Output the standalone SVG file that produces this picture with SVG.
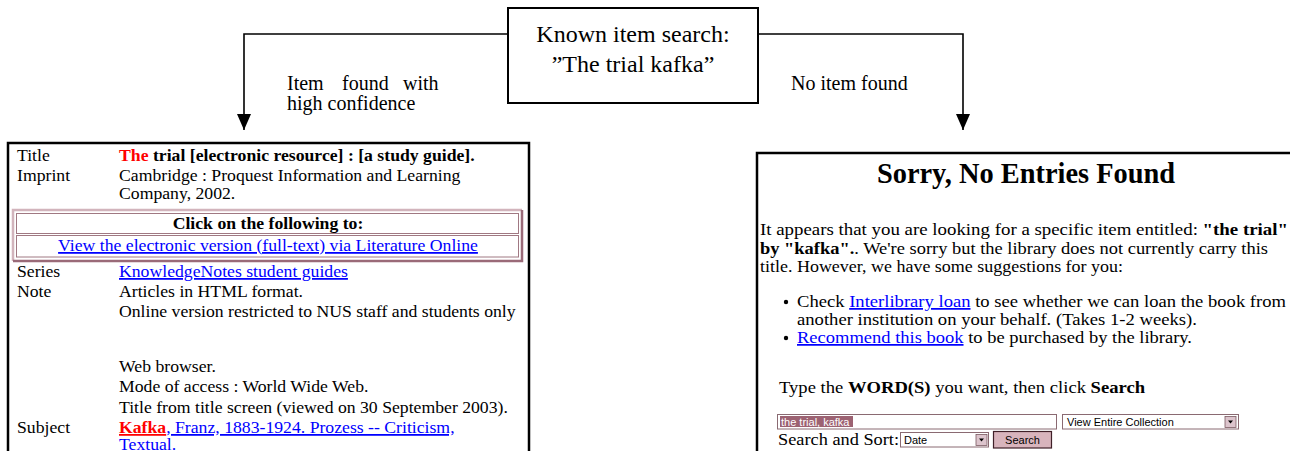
<svg xmlns="http://www.w3.org/2000/svg" width="1290" height="451" viewBox="0 0 1290 451">
<defs>
<style>
.ser{font-family:"Liberation Serif","Times New Roman",serif;fill:#000}
.lab{font-size:20px}
.lp{font-size:17.7px}
.rp{font-size:17.4px}
.b{font-weight:bold}
.red{fill:#ff0000}
.lnk{fill:#0000ff;text-decoration:underline}
.sans{font-family:"Liberation Sans",Arial,sans-serif;font-size:11px}
.conn{fill:none;stroke:#000;stroke-width:1.6}
.panel{fill:#fff;stroke:#000;stroke-width:2.5}
.field{fill:#fff;stroke:#8a6a72;stroke-width:1}
.abtn{fill:#dcc4cc;stroke:#7a5a62;stroke-width:0.8}
</style>
<marker id="arr" viewBox="0 0 16 14" refX="16" refY="7" markerWidth="16" markerHeight="14" markerUnits="userSpaceOnUse" orient="auto">
<path d="M0,0 L16,7 L0,14 z" fill="#000"/>
</marker>
</defs>
<rect width="1290" height="451" fill="#fff"/>

<g id="connectors">
<path class="conn" d="M508,34 H244 V130" marker-end="url(#arr)"/>
<path class="conn" d="M758,34 H963 V130" marker-end="url(#arr)"/>
<g id="label-found">
<text class="ser lab" x="287" y="90">Item</text>
<text class="ser lab" x="342" y="90">found</text>
<text class="ser lab" x="403" y="90">with</text>
<text class="ser lab" x="287" y="110">high confidence</text>
</g>
<text id="label-notfound" class="ser lab" x="791" y="90">No item found</text>
</g>

<g id="search-box">
<rect x="508" y="8" width="250" height="95" fill="#fff" stroke="#000" stroke-width="2"/>
<text class="ser" font-size="24" x="633" y="42" text-anchor="middle">Known item search:</text>
<text class="ser" font-size="24" x="633" y="72" text-anchor="middle">”The trial kafka”</text>
</g>

<g id="record-found">
<rect class="panel" x="8" y="143" width="521" height="330"/>
<text class="ser lp" x="17" y="161">Title</text>
<text class="ser lp b" x="119" y="161"><tspan class="red">The</tspan> trial [electronic resource] : [a study guide].</text>
<text class="ser lp" x="17" y="181">Imprint</text>
<text class="ser lp" x="119" y="181">Cambridge : Proquest Information and Learning</text>
<text class="ser lp" x="119" y="199">Company, 2002.</text>
<g id="link-table">
<path d="M13,261 V210 H522" fill="none" stroke="#d2b4bc" stroke-width="2.5"/>
<path d="M13,261 H522 V210" fill="none" stroke="#9a6a78" stroke-width="2.5"/>
<rect x="16.5" y="213.5" width="502" height="20" fill="#fff" stroke="#a07882" stroke-width="1"/>
<rect x="16.5" y="235.5" width="502" height="21.5" fill="#fff" stroke="#a07882" stroke-width="1"/>
<text class="ser lp b" x="268" y="229" text-anchor="middle">Click on the following to:</text>
<text class="ser lp lnk" x="268" y="251" text-anchor="middle">View the electronic version (full-text) via Literature Online</text>
</g>
<text class="ser lp" x="17" y="277">Series</text>
<text class="ser lp lnk" x="119" y="277">KnowledgeNotes student guides</text>
<text class="ser lp" x="17" y="297">Note</text>
<text class="ser lp" x="119" y="297">Articles in HTML format.</text>
<text class="ser lp" x="119" y="317">Online version restricted to NUS staff and students only</text>
<text class="ser lp" x="119" y="372">Web browser.</text>
<text class="ser lp" x="119" y="392">Mode of access : World Wide Web.</text>
<text class="ser lp" x="119" y="413">Title from title screen (viewed on 30 September 2003).</text>
<text class="ser lp" x="17" y="433">Subject</text>
<text class="ser lp" x="119" y="433"><tspan class="red b" text-decoration="underline">Kafka</tspan><tspan class="lnk">, Franz, 1883-1924. Prozess -- Criticism,</tspan></text>
<text class="ser lp lnk" x="119" y="450">Textual.</text>
</g>

<g id="no-entries">
<rect class="panel" x="757" y="153" width="545" height="320"/>
<text class="ser b" font-size="28.4" x="1026" y="183" text-anchor="middle">Sorry, No Entries Found</text>
<text class="ser rp" x="760" y="235" textLength="528" lengthAdjust="spacingAndGlyphs">It appears that you are looking for a specific item entitled: <tspan class="b">"the trial"</tspan></text>
<text class="ser rp" x="760" y="253.5" textLength="508" lengthAdjust="spacingAndGlyphs"><tspan class="b">by "kafka".</tspan>. We're sorry but the library does not currently carry this</text>
<text class="ser rp" x="760" y="272" textLength="363" lengthAdjust="spacingAndGlyphs">title. However, we have some suggestions for you:</text>
<circle cx="786" cy="302" r="2.2" fill="#000"/>
<text class="ser rp" x="797" y="307" textLength="489" lengthAdjust="spacingAndGlyphs">Check <tspan class="lnk">Interlibrary loan</tspan> to see whether we can loan the book from</text>
<text class="ser rp" x="797" y="325" textLength="400" lengthAdjust="spacingAndGlyphs">another institution on your behalf. (Takes 1-2 weeks).</text>
<circle cx="786" cy="338" r="2.2" fill="#000"/>
<text class="ser rp" x="797" y="343" textLength="395" lengthAdjust="spacingAndGlyphs"><tspan class="lnk">Recommend this book</tspan> to be purchased by the library.</text>
<text class="ser rp" x="779" y="393" textLength="366" lengthAdjust="spacingAndGlyphs">Type the <tspan class="b">WORD(S)</tspan> you want, then click <tspan class="b">Search</tspan></text>
<g id="search-form">
<rect class="field" x="777.5" y="414.5" width="279" height="14.5"/>
<rect x="780" y="416" width="73" height="11" fill="#9c6272"/>
<text class="sans" x="781" y="425.5" fill="#fff">the trial, kafka</text>
<rect class="field" x="1062.5" y="414.5" width="176" height="14.5"/>
<text class="sans" x="1067" y="425.5" fill="#000">View Entire Collection</text>
<rect class="abtn" x="1225" y="416.5" width="11" height="11"/>
<path d="M1228,420.5 h5 l-2.5,3 z" fill="#000"/>
<text class="ser lp" x="778" y="445" textLength="121" lengthAdjust="spacingAndGlyphs">Search and Sort:</text>
<rect class="field" x="900.5" y="432.5" width="88" height="14.5"/>
<text class="sans" x="904" y="444" fill="#000">Date</text>
<rect class="abtn" x="976" y="434.5" width="11" height="11"/>
<path d="M979,438.5 h5 l-2.5,3 z" fill="#000"/>
<rect x="993.5" y="431.5" width="58" height="16.5" fill="#d8b4bc" stroke="#402028" stroke-width="1.2"/>
<text class="sans" font-size="11.5" x="1022.5" y="443.5" text-anchor="middle" fill="#000">Search</text>
</g>
</g>
</svg>
